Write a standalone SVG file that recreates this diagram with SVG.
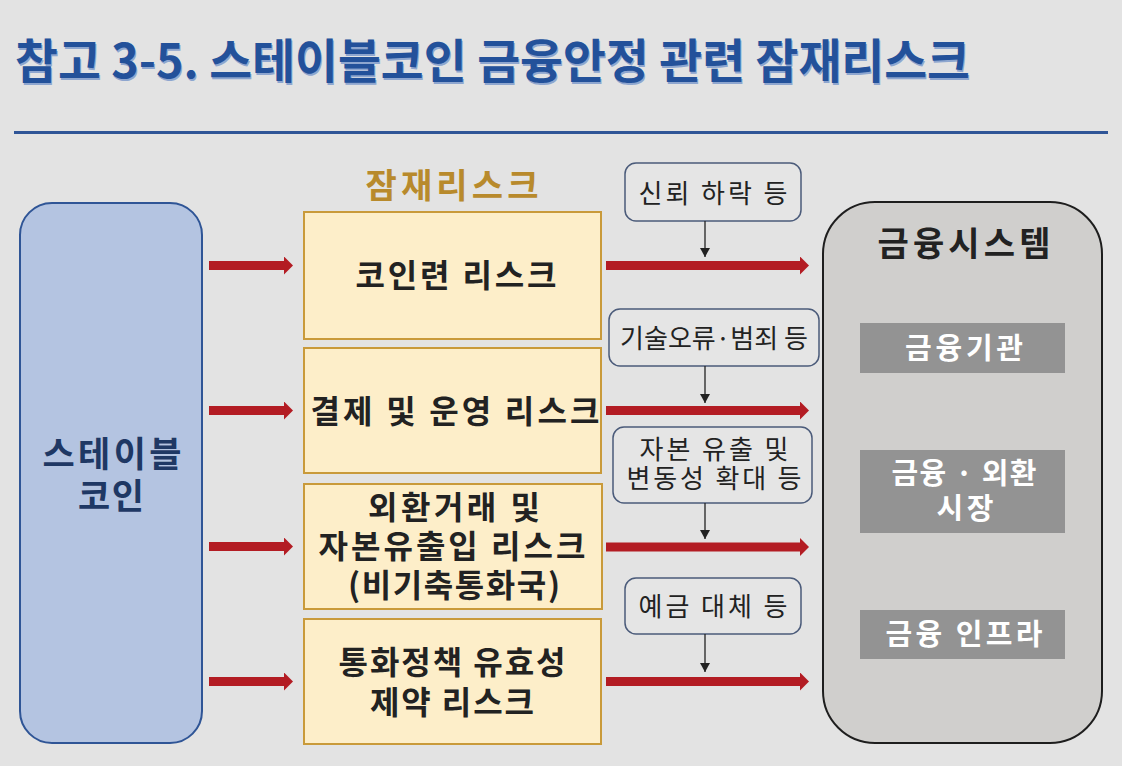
<svg xmlns="http://www.w3.org/2000/svg" width="1122" height="766" viewBox="0 0 1122 766">
<style>
text{font-family:"Noto Sans CJK KR","Noto Sans",sans-serif;text-anchor:middle}
.title{font-size:47px;font-weight:700;text-anchor:start}
.risk{fill:#fdeec9;stroke:#c99a3a;stroke-width:2}
.rt{font-size:32px;font-weight:700;fill:#222}
.lab{fill:#e5e5e5;stroke:#4b5b7a;stroke-width:1.5}
.lt{font-size:26px;fill:#222}
.gb{fill:#939393}
.gt{font-size:29px;font-weight:700;fill:#fff}
.red{stroke:#b31c23;stroke-width:9;fill:none}
.thin{stroke:#222;stroke-width:1.3;fill:none}
</style>
<defs>
<marker id="redhead" markerUnits="userSpaceOnUse" markerWidth="10" markerHeight="18" refX="0" refY="9" orient="auto">
<path d="M0,0 L9,9 L0,18 z" fill="#b31c23"/>
</marker>
<marker id="blackhead" markerUnits="userSpaceOnUse" markerWidth="10" markerHeight="10" refX="9" refY="5" orient="auto">
<path d="M0,0 L9,5 L0,10 z" fill="#222"/>
</marker>
</defs>
<rect width="1122" height="766" fill="#e3e3e3"/>
<g id="title">
<text class="title" x="16" y="80" fill="#8ea6cf" textLength="955" lengthAdjust="spacingAndGlyphs">참고 3-5. 스테이블코인 금융안정 관련 잠재리스크</text>
<text class="title" x="15" y="78" fill="#23519a" textLength="955" lengthAdjust="spacingAndGlyphs">참고 3-5. 스테이블코인 금융안정 관련 잠재리스크</text>
<line x1="14" y1="132.5" x2="1108" y2="132.5" stroke="#2f5597" stroke-width="3"/>
</g>
<g id="stablecoin">
<rect x="20" y="203" width="182" height="540" rx="32" fill="#b4c4e1" stroke="#2f5596" stroke-width="2"/>
<text x="112" y="467" textLength="139" style="font-size:35px;font-weight:700;fill:#1f3864">스테이블</text>
<text x="111" y="509" textLength="66" style="font-size:35px;font-weight:700;fill:#1f3864">코인</text>
</g>
<g id="header">
<text x="452" y="198" textLength="173" style="font-size:34px;font-weight:700;fill:#b88a2c">잠재리스크</text>
</g>
<g id="risk1">
<rect class="risk" x="304" y="212" width="297" height="127"/>
<text class="rt" x="456" y="287" textLength="201">코인련 리스크</text>
</g>
<g id="risk2">
<rect class="risk" x="304" y="348" width="297" height="125"/>
<text class="rt" x="455" y="423" textLength="289">결제 및 운영 리스크</text>
</g>
<g id="risk3">
<rect class="risk" x="304" y="484" width="298" height="125"/>
<text class="rt" x="454" y="519" textLength="172">외환거래 및</text>
<text class="rt" x="452" y="558" textLength="267">자본유출입 리스크</text>
<text class="rt" x="454" y="597" textLength="212">(비기축통화국)</text>
</g>
<g id="risk4">
<rect class="risk" x="304" y="619" width="297" height="125"/>
<text class="rt" x="452" y="674" textLength="227">통화정책 유효성</text>
<text class="rt" x="452" y="714" textLength="164">제약 리스크</text>
</g>
<g id="label1">
<rect class="lab" x="625" y="163" width="176" height="58" rx="11"/>
<text class="lt" x="713" y="203" textLength="149">신뢰 하락 등</text>
</g>
<g id="label2">
<rect class="lab" x="609" y="309" width="210" height="57" rx="11"/>
<text class="lt" x="714" y="348" textLength="188">기술오류·범죄 등</text>
</g>
<g id="label3">
<rect class="lab" x="613" y="427" width="199" height="76" rx="11"/>
<text class="lt" x="714" y="459" textLength="149">자본 유출 및</text>
<text class="lt" x="714" y="488" textLength="175">변동성 확대 등</text>
</g>
<g id="label4">
<rect class="lab" x="625" y="578" width="176" height="56" rx="11"/>
<text class="lt" x="713" y="616" textLength="149">예금 대체 등</text>
</g>
<g id="financial-system">
<rect x="823" y="202" width="279" height="541" rx="52" fill="#d0cfcd" stroke="#1e1e1e" stroke-width="2"/>
<text x="964" y="256" textLength="173" style="font-size:34px;font-weight:700;fill:#222">금융시스템</text>
</g>
<g id="fin-inst">
<rect class="gb" x="860" y="323" width="205" height="50"/>
<text class="gt" x="964" y="359" textLength="118">금융기관</text>
</g>
<g id="fin-market">
<rect class="gb" x="860" y="450" width="205" height="83"/>
<text class="gt" x="964" y="484" textLength="145">금융 · 외환</text>
<text class="gt" x="965" y="519" textLength="57">시장</text>
</g>
<g id="fin-infra">
<rect class="gb" x="860" y="610" width="205" height="49"/>
<text class="gt" x="964" y="645" textLength="157">금융 인프라</text>
</g>
<g id="connectors">
<line class="red" x1="209" y1="265.5" x2="284" y2="265.5" marker-end="url(#redhead)"/>
<line class="red" x1="209" y1="410.5" x2="284" y2="410.5" marker-end="url(#redhead)"/>
<line class="red" x1="209" y1="546.5" x2="284" y2="546.5" marker-end="url(#redhead)"/>
<line class="red" x1="209" y1="681.5" x2="284" y2="681.5" marker-end="url(#redhead)"/>
<line class="red" x1="606" y1="265.5" x2="800" y2="265.5" marker-end="url(#redhead)"/>
<line class="red" x1="606" y1="410.5" x2="800" y2="410.5" marker-end="url(#redhead)"/>
<line class="red" x1="606" y1="547" x2="800" y2="547" marker-end="url(#redhead)"/>
<line class="red" x1="606" y1="681.5" x2="800" y2="681.5" marker-end="url(#redhead)"/>
<line class="thin" x1="705" y1="221" x2="705" y2="257" marker-end="url(#blackhead)"/>
<line class="thin" x1="705" y1="366" x2="705" y2="403" marker-end="url(#blackhead)"/>
<line class="thin" x1="705" y1="503" x2="705" y2="539" marker-end="url(#blackhead)"/>
<line class="thin" x1="705" y1="634" x2="705" y2="672" marker-end="url(#blackhead)"/>
</g>
</svg>
